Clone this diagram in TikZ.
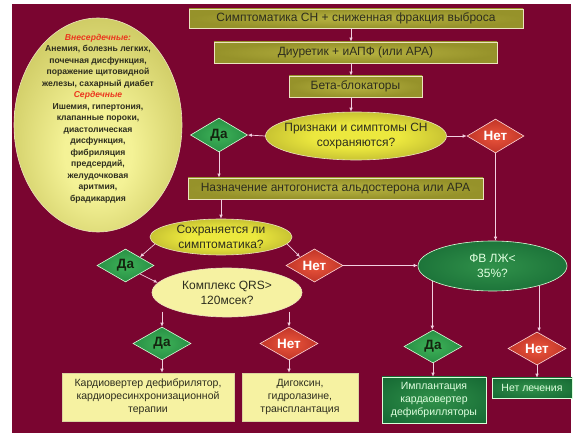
\documentclass[tikz,border=0pt]{standalone}
\usepackage{fontspec}
\setmainfont{Liberation Sans}
\usetikzlibrary{arrows.meta,shapes.geometric}

\definecolor{bgred}{RGB}{122,5,48}
\definecolor{olive}{RGB}{150,146,42}
\definecolor{olivelt}{RGB}{184,180,66}
\definecolor{ovalin}{RGB}{236,232,62}
\definecolor{ovalout}{RGB}{132,126,28}
\definecolor{bigin}{RGB}{244,242,150}
\definecolor{bigout}{RGB}{165,160,45}
\definecolor{cream}{RGB}{236,228,190}
\definecolor{paleyel}{RGB}{246,242,162}
\definecolor{greenin}{RGB}{62,178,88}
\definecolor{greenout}{RGB}{18,110,50}
\definecolor{redin}{RGB}{236,86,60}
\definecolor{redout}{RGB}{150,20,20}
\definecolor{dkgreenin}{RGB}{48,145,74}
\definecolor{dkgreenout}{RGB}{10,88,42}
\definecolor{arrowpink}{RGB}{242,208,224}
\definecolor{ink}{RGB}{45,45,30}
\definecolor{warn}{RGB}{235,55,30}

\pgfdeclareradialshading[ovalin,ovalout]{ovalglow}{\pgfpoint{0bp}{0bp}}
  {color(0bp)=(ovalin); color(12bp)=(ovalin); color(50bp)=(ovalout)}
\pgfdeclareradialshading[bigin,bigout]{bigglow}{\pgfpoint{0bp}{-8bp}}
  {color(0bp)=(bigin); color(10bp)=(bigin); color(50bp)=(bigout)}
\pgfdeclareradialshading[greenin,greenout]{greenglow}{\pgfpoint{0bp}{0bp}}
  {color(0bp)=(greenin); color(50bp)=(greenout)}
\pgfdeclareradialshading[redin,redout]{redglow}{\pgfpoint{0bp}{0bp}}
  {color(0bp)=(redin); color(50bp)=(redout)}
\pgfdeclareradialshading[dkgreenin,dkgreenout]{dkglow}{\pgfpoint{0bp}{0bp}}
  {color(0bp)=(dkgreenin); color(50bp)=(dkgreenout)}

\begin{document}
\begin{tikzpicture}[x=1pt, y=-1pt,
  box/.style={rectangle, draw=cream, line width=0.7pt, inner color=olivelt, outer color=olive,
    text=ink, inner sep=0pt, align=center, font=\fontsize{12}{15}\selectfont},
  oval/.style={ellipse, draw=cream, line width=0.6pt, shading=ovalglow,
    text=ink, inner xsep=-40pt, inner ysep=-4pt, align=center, font=\fontsize{12}{15}\selectfont},
  yes/.style={diamond, draw=white!85!green, line width=0.6pt, shading=greenglow,
    minimum width=57pt, minimum height=34pt, inner sep=0pt, text={rgb,255:red,20;green,35;blue,15},
    font=\bfseries\fontsize{13.5}{14}\selectfont},
  no/.style={diamond, draw=white!85!red, line width=0.6pt, shading=redglow,
    minimum width=57pt, minimum height=34pt, inner sep=0pt, text=white,
    font=\bfseries\fontsize{13.5}{14}\selectfont},
  pale/.style={rectangle, draw=cream!80!olive, line width=0.6pt, fill=paleyel, text=ink,
    inner sep=0pt, align=center, font=\fontsize{10.5}{13}\selectfont},
  dark/.style={rectangle, draw=green!15!white, line width=0.6pt, shading=dkglow,
    text=white!88!green, inner sep=0pt, align=center, font=\fontsize{10.5}{13}\selectfont},
  arr/.style={draw=arrowpink, line width=0.7pt, -{Latex[length=4pt,width=3.5pt]}}]

  \useasboundingbox (0,0) rectangle (574,433);
  \fill[bgred] (12,4) rectangle (571,433);

  \node[ellipse, draw=cream, line width=0.6pt, shading=bigglow,
    minimum width=168pt, minimum height=214pt] (causes) at (98,125) {};
  \node[align=center, text=ink, font=\bfseries\fontsize{8.6}{11.5}\selectfont] (causestxt) at (98,118.5)
    {{\color{warn}\itshape Внесердечные:}\\Анемия, болезнь легких,\\почечная дисфункция,\\поражение щитовидной\\
     железы, сахарный диабет\\{\color{warn}\itshape Сердечные}\\Ишемия, гипертония,\\клапанные пороки,\\
     диастолическая\\дисфункция,\\фибриляция\\предсердий,\\желудочковая\\аритмия,\\брадикардия};

  \node[box, minimum width=334pt, minimum height=19pt] (sympt) at (356,18.5) {Симптоматика СН + сниженная фракция выброса};
  \node[box, minimum width=283pt, minimum height=21pt] (diur) at (355.5,52.5) {Диуретик + иАПФ (или АРА)};
  \node[box, minimum width=133pt, minimum height=21pt] (beta) at (355.5,86.5) {Бета-блокаторы};
  \node[oval, minimum width=181pt, minimum height=48pt] (persist) at (356,136) {Признаки и симптомы СН\\сохраняются?};
  \node[yes] (yes1) at (219,135) {Да};
  \node[no] (no1) at (495.5,136) {Нет};
  \node[box, minimum width=295pt, minimum height=21pt] (aldo) at (335.5,188.5) {Назначение антогониста альдостерона или АРА};

  \node[oval, minimum width=142pt, minimum height=36pt] (still) at (221,237) {Сохраняется ли\\симптоматика?};
  \node[yes, minimum height=33pt] (yes2) at (125.5,265.5) {Да};
  \node[no, minimum height=33pt] (no2) at (314.5,265.5) {Нет};
  \node[ellipse, draw=cream, line width=0.6pt, fill=paleyel, text=ink, inner xsep=-30pt, inner ysep=-4pt,
    align=center, font=\fontsize{12}{15}\selectfont, minimum width=150pt, minimum height=49pt] (qrs) at (227,292.5) {Комплекс QRS>\\120мсек?};
  \node[ellipse, draw=green!15!white, line width=0.6pt, shading=dkglow,
    text=white!88!green, inner xsep=-20pt, inner ysep=-4pt, align=center, font=\fontsize{12}{15}\selectfont,
    minimum width=149pt, minimum height=50pt] (lvef) at (492.5,266) {ФВ ЛЖ<\\35\%?};

  \node[yes, minimum width=58pt, minimum height=33pt] (yes3) at (162,343.5) {Да};
  \node[no, minimum width=58pt, minimum height=33pt] (no3) at (289,343.5) {Нет};
  \node[yes, minimum width=58pt, minimum height=33pt] (yes4) at (433,346.5) {Да};
  \node[no, minimum width=58pt, minimum height=33pt] (no4) at (537,348.5) {Нет};

  \node[pale, minimum width=172pt, minimum height=48pt] (crt) at (148,397) {Кардиовертер дефибрилятор,\\кардиоресинхронизационной\\терапии};
  \node[pale, minimum width=116pt, minimum height=48pt] (digox) at (300,397) {Дигоксин,\\гидролазине,\\трансплантация};
  \node[dark, minimum width=104pt, minimum height=46pt] (icd) at (434,400) {Имплантация\\кардаовертер\\дефибрилляторы};
  \node[dark, minimum width=80pt, minimum height=20pt] (notreat) at (532,388) {Нет лечения};

  \draw[arr] ([xshift=-5pt]sympt.south) -- ([xshift=-5pt]sympt.south |- diur.north);
  \draw[arr] ([xshift=-4.5pt]diur.south) -- ([xshift=-4.5pt]diur.south |- beta.north);
  \draw[arr] ([xshift=-4.5pt]beta.south) -- ([xshift=-4.5pt]beta.south |- persist.north);
  \draw[arr] (persist.west) -- (yes1.east);
  \draw[arr] (persist.east) -- (no1.west);
  \draw[arr] (yes1.south) -- (yes1.south |- aldo.north);
  \draw[arr] (no1.south) -- (no1.south |- lvef.north);
  \draw[arr] (aldo.south -| still.north) -- (still.north);
  \draw[arr] (still.186) -- (yes2.north east);
  \draw[arr] (still.354) -- (no2.north west);
  \draw[arr] (yes2.south east) -- (qrs.172);
  \draw[arr] (no2.east) -- (no2.east -| lvef.west);
  \draw[arr] ([yshift=15pt]yes3.north) -- (yes3.north);
  \draw[arr] ([yshift=15pt]no3.north) -- (no3.north);
  \draw[arr] (lvef.194) -- (lvef.194 |- yes4.north);
  \draw[arr] (lvef.337) -- (lvef.337 |- no4.north);
  \draw[arr] (yes3.south) -- (yes3.south |- crt.north);
  \draw[arr] (no3.south) -- (no3.south |- digox.north);
  \draw[arr] (yes4.south) -- (yes4.south |- icd.north);
  \draw[arr] (no4.south) -- (no4.south |- notreat.north);

\end{tikzpicture}
\end{document}
